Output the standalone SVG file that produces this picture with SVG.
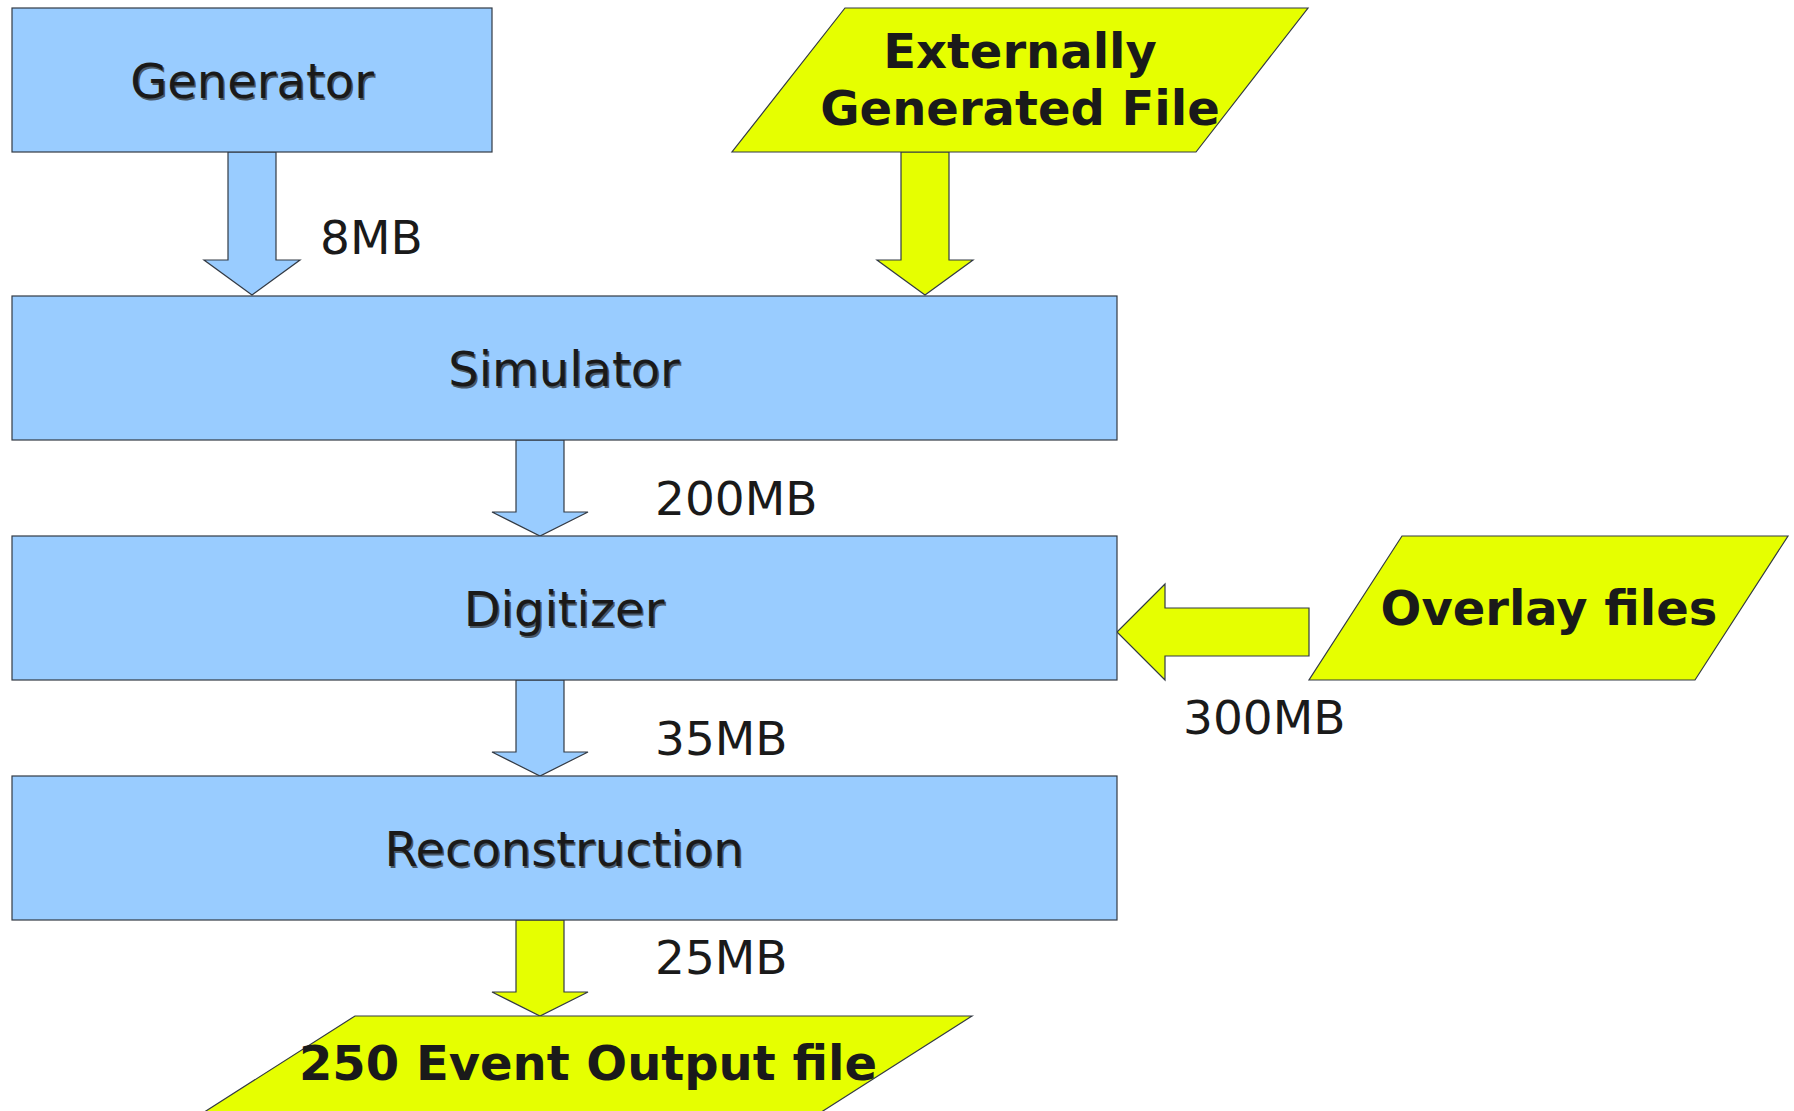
<svg xmlns="http://www.w3.org/2000/svg" width="1794" height="1111" viewBox="0 0 1794 1111">
  <style>
    .proc { fill: #99ccff; stroke: #333a44; stroke-width: 1.2; }
    .file { fill: #e6ff00; stroke: #333a44; stroke-width: 1.2; }
    .name { font-family: "DejaVu Sans", sans-serif; font-size: 48px; fill: #1a1a1a; text-anchor: middle; }
    .shadow { fill: #4a5a6a; }
    .bold { font-family: "DejaVu Sans", sans-serif; font-size: 48px; font-weight: bold; fill: #1a1a1a; text-anchor: middle; }
    .size { font-family: "DejaVu Sans", sans-serif; font-size: 47px; fill: #1a1a1a; }
  </style>
  <rect width="1794" height="1111" fill="#ffffff"/>

  <!-- flow arrows between stages -->
  <g id="connectors">
    <polygon class="proc" points="228,152 276,152 276,260 300,260 252,295 204,260 228,260"/>
    <polygon class="file" points="901,152 949,152 949,260 973,260 925,295 877,260 901,260"/>
    <polygon class="proc" points="516,440 564,440 564,512 588,512 540,536 492,512 516,512"/>
    <polygon class="proc" points="516,680 564,680 564,752 588,752 540,776 492,752 516,752"/>
    <polygon class="file" points="516,920 564,920 564,992 588,992 540,1016 492,992 516,992"/>
    <polygon class="file" points="1309,608 1309,656 1165,656 1165,680 1117,632 1165,584 1165,608"/>
    <text class="size" x="320" y="254">8MB</text>
    <text class="size" x="655" y="515">200MB</text>
    <text class="size" x="655" y="755">35MB</text>
    <text class="size" x="655" y="974">25MB</text>
    <text class="size" x="1183" y="734">300MB</text>
  </g>

  <g id="generator">
    <rect class="proc" x="12" y="8" width="480" height="144"/>
    <text class="name shadow" x="253.5" y="99.5">Generator</text>
    <text class="name" x="252" y="98">Generator</text>
  </g>

  <g id="external-file">
    <polygon class="file" points="845,8 1308,8 1196,152 732,152"/>
    <text class="bold" x="1020" y="68">Externally</text>
    <text class="bold" x="1020" y="125">Generated File</text>
  </g>

  <g id="simulator">
    <rect class="proc" x="12" y="296" width="1105" height="144"/>
    <text class="name shadow" x="565.5" y="387.5">Simulator</text>
    <text class="name" x="564" y="386">Simulator</text>
  </g>

  <g id="digitizer">
    <rect class="proc" x="12" y="536" width="1105" height="144"/>
    <text class="name shadow" x="565.5" y="627.5">Digitizer</text>
    <text class="name" x="564" y="626">Digitizer</text>
  </g>

  <g id="overlay-files">
    <polygon class="file" points="1402,536 1788,536 1695,680 1309,680"/>
    <text class="bold" x="1549" y="625">Overlay files</text>
  </g>

  <g id="reconstruction">
    <rect class="proc" x="12" y="776" width="1105" height="144"/>
    <text class="name shadow" x="565.5" y="867.5">Reconstruction</text>
    <text class="name" x="564" y="866">Reconstruction</text>
  </g>

  <g id="output-file">
    <polygon class="file" points="355,1016 972,1016 746,1160 129,1160"/>
    <text class="bold" x="588" y="1080">250 Event Output file</text>
  </g>
</svg>
